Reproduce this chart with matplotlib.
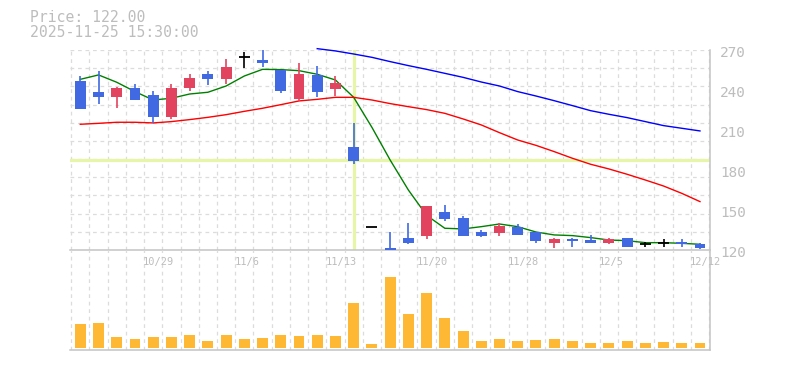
import numpy as np
import matplotlib.pyplot as plt

# ---- data ----
dates = ["10/23", "10/24", "10/27", "10/28", "10/29", "10/30", "10/31", "11/4", "11/5", "11/6",
         "11/7", "11/10", "11/11", "11/12", "11/13", "11/14", "11/17", "11/18", "11/19", "11/20",
         "11/21", "11/25", "11/26", "11/27", "11/28", "12/1", "12/2", "12/3", "12/4", "12/5",
         "12/8", "12/9", "12/10", "12/11", "12/12"]
label_every = 5
label_first = 4

opens = [248.5, 240.5, 237.0, 243.5, 238.3, 222.0, 243.5, 254.3, 250.5, 267.0,
         264.5, 257.0, 235.3, 253.5, 243.0, 199.3, 139.0, 123.5, 131.3, 132.8,
         150.5, 146.0, 135.5, 135.0, 139.3, 135.5, 127.5, 130.3, 129.5, 127.5,
         131.3, 126.8, 127.3, 128.3, 126.8]
highs = [252.5, 256.0, 244.5, 246.5, 241.3, 246.5, 254.0, 256.3, 265.3, 270.8,
         272.5, 257.0, 262.5, 260.0, 252.5, 217.0, 139.0, 135.5, 142.0, 155.3,
         155.5, 147.8, 137.0, 142.3, 141.5, 135.5, 131.3, 131.3, 133.3, 131.3,
         131.3, 128.3, 130.3, 130.3, 127.5]
lows = [227.5, 231.8, 228.8, 234.5, 217.5, 220.3, 241.3, 246.0, 246.5, 258.5,
        259.5, 240.0, 234.0, 237.0, 237.8, 186.5, 139.0, 121.5, 126.3, 130.5,
        144.0, 132.8, 132.0, 132.8, 133.5, 127.5, 123.8, 124.5, 127.5, 126.3,
        124.5, 124.5, 124.5, 124.5, 123.0]
closes = [227.5, 237.0, 243.5, 234.5, 222.0, 243.5, 251.0, 250.5, 259.3, 267.0,
          262.5, 241.3, 254.3, 240.8, 247.5, 189.0, 139.0, 121.5, 127.5, 155.3,
          145.5, 132.8, 132.8, 139.8, 133.5, 129.0, 130.3, 129.0, 127.5, 130.3,
          124.5, 126.8, 127.3, 126.3, 123.8]
volume = [24000, 25000, 11000, 9000, 11000, 11000, 13000, 7000, 13000, 9000,
          10000, 13000, 12000, 13000, 12000, 45000, 4000, 71000, 34000, 55000,
          30000, 17000, 7000, 9000, 7000, 8000, 9000, 7000, 5000, 5000,
          7000, 5000, 6000, 5000, 5000]

ma_short = [250.0, 253.3, 247.8, 240.8, 234.5, 235.8, 239.0, 240.3, 245.0, 252.5,
            257.5, 257.3, 256.5, 253.8, 249.5, 236.5, 214.0, 189.5, 167.0, 148.0,
            138.3, 137.8, 139.5, 141.5, 139.5, 135.5, 133.3, 132.8, 131.3, 129.5,
            129.0, 127.5, 127.5, 127.0, 126.3]
ma_mid = [216.3, 217.0, 217.8, 217.8, 217.3, 218.3, 219.8, 221.5, 223.5, 226.0,
          228.3, 231.0, 233.8, 235.0, 236.5, 236.5, 234.5, 231.8, 229.5, 227.3,
          224.5, 220.3, 215.8, 210.0, 204.5, 200.5, 195.8, 190.8, 186.3, 182.8,
          178.8, 174.5, 170.0, 164.5, 158.3]
ma_long_start = 13
ma_long = [273.0, 271.3, 269.0, 266.5, 263.3, 260.3, 257.5, 254.5, 251.5, 248.0,
           245.0, 240.8, 237.5, 234.0, 230.3, 226.5, 223.8, 221.3, 218.3, 215.3,
           213.3, 211.3]

price_ticks = [120, 150, 180, 210, 240, 270]
price_range = (122, 272)
cross_idx = 15
cross_price = 189.5
info_lines = ["Price: 122.00", "2025-11-25 15:30:00"]

# ---- colours ----
UP = "#e2445f"
DOWN = "#4169e1"
VOL = "#ffb833"
GRID = "#dcdcdc"
AXIS = "#c4c4c4"
TEXT = "#bdbdbd"
CROSS = "#e6f5a8"
MONO = "DejaVu Sans Mono"

W, H = 785, 370
fig = plt.figure(figsize=(W / 100, H / 100), dpi=100)
ax = fig.add_axes([70 / W, 1 - 250 / H, 640 / W, 200 / H])
axv = fig.add_axes([70 / W, 1 - 350 / H, 640 / W, 100 / H], sharex=ax)

n = len(dates)
x = np.arange(n)
ax.set_xlim(-0.565, n - 1 + 0.55)
ax.set_ylim(*price_range)
axv.set_ylim(-2000, 98000)

for a in (ax, axv):
    for s in ("top", "left"):
        a.spines[s].set_visible(False)
    for s in ("bottom", "right"):
        a.spines[s].set_color(AXIS)
        a.spines[s].set_linewidth(1.1)
    a.tick_params(left=False, bottom=False, labelleft=False, labelbottom=False)
    a.set_facecolor("none")
    # vertical grid at candle boundaries
    for gx in np.arange(-0.5, n, 1.0):
        a.axvline(gx, color=GRID, lw=0.9, ls=(0, (3, 3)), zorder=0)

# horizontal grid in price panel (11 even steps)
lo, hi = price_range
for k in range(1, 12):
    ax.axhline(lo + (hi - lo) * k / 11, color=GRID, lw=0.9, ls=(0, (3, 3)), zorder=0)

# crosshair
ax.axvline(cross_idx, color=CROSS, lw=2.3, zorder=1)
ax.axhline(cross_price, color=CROSS, lw=2.3, zorder=1)

# moving averages
ax.plot(x, ma_short, color="#008000", lw=1.0, zorder=2)
ax.plot(x, ma_mid, color="#ff0000", lw=1.0, zorder=2)
ax.plot(x[ma_long_start:], ma_long, color="#0000ff", lw=1.0, zorder=2, clip_on=False)

# candles
bw = 0.6
for i in range(n):
    o, h, l, c = opens[i], highs[i], lows[i], closes[i]
    if o == c:
        col = "black"
        ax.hlines(o, i - bw / 2, i + bw / 2, color=col, lw=1.3, zorder=3)
    else:
        col = UP if c > o else DOWN
        ax.bar(i, abs(c - o), bottom=min(o, c), width=bw, color=col, zorder=3)
    if h > l:
        ax.vlines(i, l, h, color=col, lw=1.2, zorder=3)

# volume
axv.bar(x, volume, width=bw, color=VOL, zorder=2)

# right price labels
for p in price_ticks:
    ax.text(1 + 10 / 640, p, str(p), transform=ax.get_yaxis_transform(),
            ha="left", va="center", fontsize=10.4, color=TEXT, family=MONO, clip_on=False)

# date labels
for i in range(label_first, n, label_every):
    axv.text(i - 0.55, 0.88, dates[i], transform=axv.get_xaxis_transform(),
             ha="left", va="center", fontsize=7.5, color=TEXT, family=MONO)

# info text top-left
fig.text(30 / W, 1 - 17.5 / H, info_lines[0], ha="left", va="center",
         fontsize=10.6, color=TEXT, family=MONO)
fig.text(30 / W, 1 - 32.5 / H, info_lines[1], ha="left", va="center",
         fontsize=10.6, color=TEXT, family=MONO)

fig.savefig("out.png", dpi=100)
